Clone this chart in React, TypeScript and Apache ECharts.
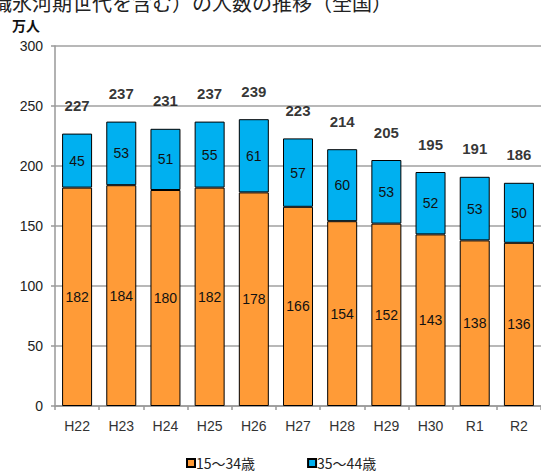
import React, { useEffect, useRef } from "react";
import * as echarts from "echarts";

const categories = ["H22", "H23", "H24", "H25", "H26", "H27", "H28", "H29", "H30", "R1", "R2"];
const young = [182, 184, 180, 182, 178, 166, 154, 152, 143, 138, 136];
const middle = [45, 53, 51, 55, 61, 57, 60, 53, 52, 53, 50];
const totals = young.map((v, i) => v + middle[i]);
const yTicks = { min: 0, max: 300, interval: 50 };
const titleText = "職氷河期世代を含む）の人数の推移（全国）";
const unitText = "万人";
const seriesNames = ["15～34歳", "35～44歳"];

const FONT = "'Liberation Sans', Arial, sans-serif";
const CJK = "'Noto Sans CJK JP', sans-serif";

export default function App() {
  const ref = useRef<HTMLDivElement>(null);
  useEffect(() => {
    if (!ref.current) return;
    const chart = echarts.init(ref.current, null, { renderer: "svg" });
    chart.setOption({
      animation: false,
      backgroundColor: "#fff",
      graphic: [
        {
          type: "text",
          left: -8,
          top: -8,
          style: { text: titleText, font: `20px ${CJK}`, lineHeight: 18, fill: "#222" },
        },
        {
          type: "text",
          left: 12,
          top: 18,
          style: { text: unitText, font: `bold 14px ${CJK}`, lineHeight: 14, fill: "#111" },
        },
      ],
      legend: {
        data: seriesNames,
        left: 181,
        top: 451,
        itemWidth: 8,
        itemHeight: 8,
        itemGap: 52,
        icon: "rect",
        textStyle: { fontSize: 14, color: "#222", fontFamily: CJK, padding: [0, 0, 0, -4] },
      },
      grid: { left: 55, top: 46, width: 493, height: 360, containLabel: false },
      xAxis: {
        type: "category",
        data: categories,
        axisLine: { lineStyle: { color: "#999", width: 1.5 } },
        axisTick: { show: true, length: 4, lineStyle: { color: "#999", width: 1.5 } },
        axisLabel: { fontSize: 14, color: "#333", fontFamily: FONT, margin: 13 },
      },
      yAxis: {
        type: "value",
        min: yTicks.min,
        max: yTicks.max,
        interval: yTicks.interval,
        axisLine: { show: true, lineStyle: { color: "#999", width: 1.5 } },
        axisTick: { show: true, length: 4, lineStyle: { color: "#999", width: 1.5 } },
        axisLabel: { fontSize: 14, color: "#222", fontFamily: FONT, margin: 12 },
        splitLine: { lineStyle: { color: "#a0a0a0", width: 1.5 } },
      },
      series: [
        {
          name: seriesNames[0],
          type: "bar",
          stack: "total",
          data: young,
          barWidth: 30,
          itemStyle: { color: "#FF9B37", borderColor: "#000", borderWidth: 1 },
          label: { show: true, position: "inside", fontSize: 14, color: "#111", fontFamily: FONT },
        },
        {
          name: seriesNames[1],
          type: "bar",
          stack: "total",
          data: middle,
          barWidth: 30,
          itemStyle: { color: "#00B0F0", borderColor: "#000", borderWidth: 1 },
          label: { show: true, position: "inside", fontSize: 14, color: "#111", fontFamily: FONT },
        },
        {
          name: "合計",
          type: "scatter",
          data: totals,
          symbolSize: 1,
          itemStyle: { color: "rgba(0,0,0,0)" },
          z: 10,
          label: {
            show: true,
            position: "top",
            distance: 20,
            fontSize: 15,
            fontWeight: "bold",
            color: "#000",
            fontFamily: FONT,
          },
        },
      ],
    });
    return () => chart.dispose();
  }, []);
  return (
    <div
      ref={ref}
      style={{ position: "absolute", left: 0, top: 0, width: 541, height: 475 }}
    />
  );
}
